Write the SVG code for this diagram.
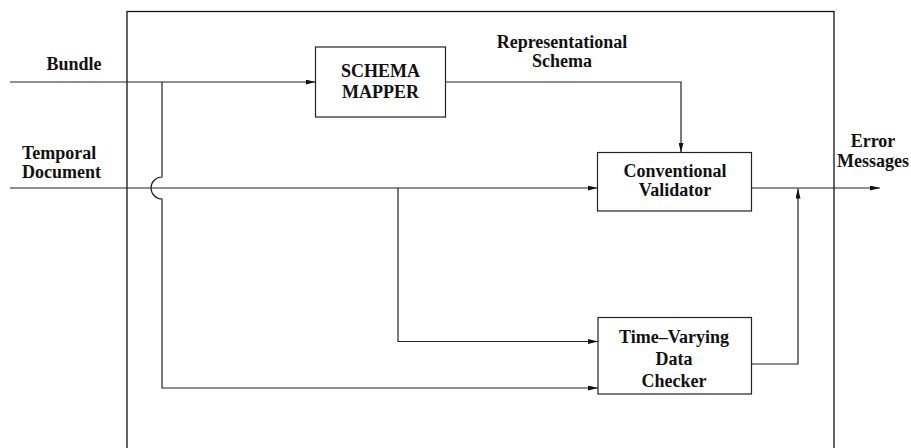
<svg xmlns="http://www.w3.org/2000/svg" width="911" height="448" viewBox="0 0 911 448">
  <style>
    .ln { fill: none; stroke: #222; stroke-width: 1.2; }
    .box { fill: #fff; stroke: #222; stroke-width: 1.2; }
    .frame { fill: none; stroke: #111; stroke-width: 1.3; }
    text { font-family: "Liberation Serif", "Times New Roman", serif; font-weight: bold; font-size: 18px; fill: #111; }
    .c { text-anchor: middle; }
  </style>
  <defs>
    <marker id="arrow" viewBox="0 0 10 5" refX="10" refY="2.5" markerWidth="10" markerHeight="5" markerUnits="userSpaceOnUse" orient="auto">
      <path d="M0,0 L10,2.5 L0,5 z" fill="#111"/>
    </marker>
  </defs>

  <rect class="frame" x="127" y="11.5" width="707" height="450"/>

  <g id="connectors">
    <!-- Bundle into schema mapper -->
    <path class="ln" d="M10,82 H315.5" marker-end="url(#arrow)"/>
    <!-- Bundle branch, hopping over the temporal document line -->
    <path class="ln" d="M162,82 V177 A11,11 0 0 0 162,199 V388 H598" marker-end="url(#arrow)"/>
    <!-- Temporal document into conventional validator -->
    <path class="ln" d="M10,188 H597.5" marker-end="url(#arrow)"/>
    <!-- Temporal document branch to data checker -->
    <path class="ln" d="M398,188 V341.5 H598" marker-end="url(#arrow)"/>
    <!-- Representational schema into validator -->
    <path class="ln" d="M445.5,82 H681 V152.5" marker-end="url(#arrow)"/>
    <!-- Error messages out -->
    <path class="ln" d="M751.5,188 H880" marker-end="url(#arrow)"/>
    <!-- Checker output joins error line -->
    <path class="ln" d="M751.5,364 H798 V188.5" marker-end="url(#arrow)"/>
  </g>

  <g id="schema-mapper">
    <rect class="box" x="315.5" y="47" width="130" height="70"/>
    <text class="c" x="380.5" y="77">SCHEMA</text>
    <text class="c" x="380.5" y="98">MAPPER</text>
  </g>

  <g id="conventional-validator">
    <rect class="box" x="597.5" y="152.5" width="154" height="58.5"/>
    <text class="c" x="675" y="177">Conventional</text>
    <text class="c" x="675" y="196">Validator</text>
  </g>

  <g id="data-checker">
    <rect class="box" x="598" y="317.5" width="153.5" height="76.5"/>
    <text class="c" x="674" y="343">Time–Varying</text>
    <text class="c" x="674" y="365">Data</text>
    <text class="c" x="674" y="386.5">Checker</text>
  </g>

  <g id="labels">
    <text class="c" x="74" y="70">Bundle</text>
    <text x="22" y="159">Temporal</text>
    <text x="22" y="178">Document</text>
    <text class="c" x="562" y="48">Representational</text>
    <text class="c" x="562" y="67">Schema</text>
    <text class="c" x="873" y="147">Error</text>
    <text class="c" x="873" y="167">Messages</text>
  </g>
</svg>
